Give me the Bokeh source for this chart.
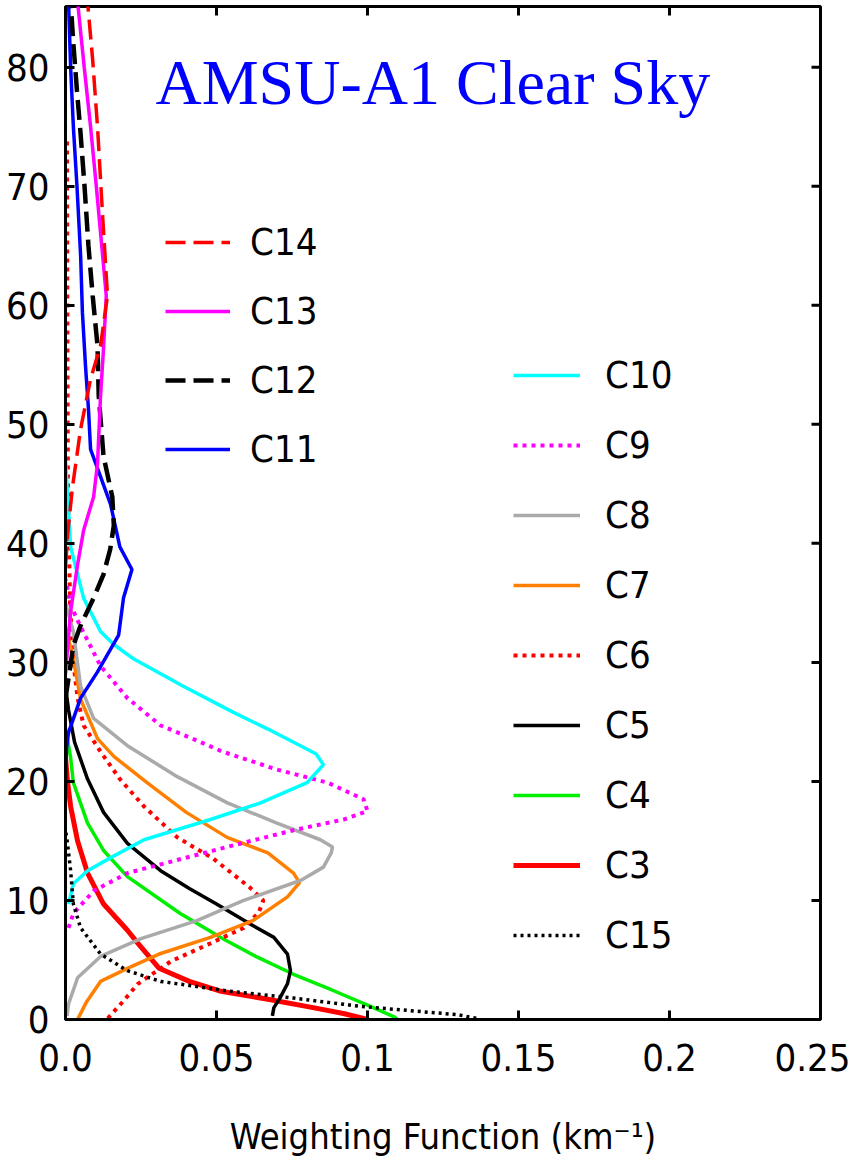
from bokeh.plotting import figure
from bokeh.models import Legend, LegendItem, Label, FixedTicker, Range1d
from bokeh.embed import file_html
from bokeh.resources import INLINE

# ---------------- data ----------------
x_ticks = [0.0, 0.05, 0.1, 0.15, 0.2, 0.25]
x_tick_labels = ["0.0", "0.05", "0.1", "0.15", "0.2", "0.25"]
y_ticks = [0, 10, 20, 30, 40, 50, 60, 70, 80]

alt_c3 = [0, 0.5, 1.0, 1.7, 2.4, 3.2, 4.3, 6.4, 7.5, 9.7, 12.3, 15.0, 17.9, 19.9, 22.0]
wf_c3 = [0.100, 0.092, 0.082, 0.067, 0.051, 0.041, 0.031, 0.024, 0.0205, 0.0126, 0.0073, 0.0040, 0.0017, 0.0007, 0.0]

alt_c4 = [0, 0.2, 1.1, 2.5, 3.8, 5.3, 6.8, 8.9, 12.0, 14.2, 16.5, 19.9, 22.0, 24.5]
wf_c4 = [0.110, 0.109, 0.101, 0.088, 0.0755, 0.063, 0.052, 0.038, 0.0205, 0.0126, 0.0073, 0.0026, 0.0017, 0.0]

alt_c5 = [0.3, 1.0, 1.8, 3.0, 4.1, 5.5, 6.9, 7.9, 9.7, 11.0, 12.5, 14.8, 17.4, 20.2, 23.3, 26.0, 28.0]
wf_c5 = [0.0685, 0.069, 0.071, 0.0735, 0.0745, 0.0735, 0.069, 0.062, 0.050, 0.041, 0.0315, 0.0205, 0.0126, 0.0073, 0.0030, 0.0010, 0.0]

alt_c6 = [0.1, 1.5, 3.0, 4.9, 6.4, 7.7, 9.0, 10.0, 11.1, 13.5, 15.3, 17.9, 20.2, 22.5, 24.7, 27.0, 30.0, 35.0, 45.0, 60.0, 74.0]
wf_c6 = [0.014, 0.019, 0.024, 0.035, 0.048, 0.059, 0.064, 0.0655, 0.061, 0.049, 0.037, 0.026, 0.018, 0.0116, 0.006, 0.004, 0.0026, 0.0015, 0.0008, 0.0006, 0.0005]

alt_c7 = [0, 1.5, 3.2, 4.3, 5.5, 6.9, 8.3, 10.3, 11.5, 12.3, 14.0, 15.3, 17.4, 19.9, 22.1, 23.6, 26.9, 30.3, 33.0]
wf_c7 = [0.004, 0.007, 0.0116, 0.0205, 0.031, 0.048, 0.062, 0.0735, 0.0775, 0.0755, 0.067, 0.0535, 0.040, 0.027, 0.016, 0.0106, 0.005, 0.0026, 0.0]

alt_c8 = [0.3, 1.3, 3.5, 5.3, 6.8, 8.3, 10.0, 11.7, 12.8, 14.0, 14.5, 15.1, 16.5, 18.2, 20.4, 23.0, 25.3, 28.0, 32.6, 35.0]
wf_c8 = [0.0005, 0.001, 0.004, 0.0116, 0.025, 0.0435, 0.059, 0.078, 0.0854, 0.088, 0.0884, 0.0844, 0.070, 0.0536, 0.037, 0.0205, 0.0093, 0.005, 0.0026, 0.0]

alt_c9 = [7.7, 8.9, 10.8, 12.3, 13.4, 14.5, 15.9, 16.8, 17.5, 18.5, 19.9, 21.0, 22.5, 23.6, 24.7, 27.0, 29.7, 33.0, 34.8, 37.0]
wf_c9 = [0.001, 0.0026, 0.0093, 0.0205, 0.037, 0.0536, 0.0755, 0.092, 0.100, 0.0987, 0.0868, 0.070, 0.052, 0.042, 0.0315, 0.0205, 0.0116, 0.005, 0.0017, 0.0]

alt_c10 = [9.7, 11.4, 12.5, 13.6, 15.1, 16.8, 18.2, 19.9, 21.4, 22.3, 23.0, 24.4, 25.8, 28.0, 30.3, 31.5, 32.6, 35.4, 39.7, 44.0, 47.0]
wf_c10 = [0.001, 0.0026, 0.0073, 0.015, 0.026, 0.048, 0.0646, 0.080, 0.0854, 0.083, 0.0778, 0.067, 0.0556, 0.039, 0.0225, 0.016, 0.0116, 0.006, 0.0017, 0.0007, 0.0]

alt_c11 = [19.0, 22.7, 24.1, 27.0, 29.2, 32.3, 35.4, 37.8, 39.7, 43.3, 45.6, 47.9, 51.3, 55.0, 59.4, 64.2, 70.0, 75.0, 80.0, 85.5]
wf_c11 = [0.0, 0.0003, 0.001, 0.005, 0.0106, 0.0176, 0.0192, 0.022, 0.018, 0.0149, 0.0116, 0.0083, 0.0076, 0.0066, 0.0056, 0.005, 0.0038, 0.0026, 0.0017, 0.001]

alt_c12 = [27.0, 29.0, 31.4, 33.1, 35.4, 37.4, 39.5, 41.5, 43.9, 47.3, 52.4, 56.6, 60.8, 65.0, 70.0, 74.4, 78.0, 82.0, 85.5]
wf_c12 = [0.0, 0.0012, 0.0026, 0.005, 0.0093, 0.0126, 0.0148, 0.016, 0.0155, 0.0126, 0.011, 0.0106, 0.009, 0.0076, 0.0063, 0.005, 0.0038, 0.0026, 0.0017]

alt_c13 = [29.0, 31.5, 34.3, 38.2, 41.1, 43.9, 46.7, 52.4, 56.0, 60.8, 65.0, 70.0, 75.0, 80.0, 85.5]
wf_c13 = [0.0, 0.0008, 0.0017, 0.004, 0.006, 0.0093, 0.0106, 0.0116, 0.0125, 0.0135, 0.012, 0.0102, 0.0083, 0.0062, 0.004]

alt_c14 = [38.0, 41.0, 44.7, 49.6, 53.8, 56.6, 60.8, 67.9, 75.0, 80.6, 85.5]
wf_c14 = [0.0, 0.0008, 0.0023, 0.005, 0.0083, 0.0116, 0.0139, 0.0122, 0.0106, 0.009, 0.0073]

alt_c15 = [0.1, 0.4, 1.1, 1.8, 2.4, 3.2, 4.1, 5.5, 7.7, 9.7, 12.5, 14.5, 16.0]
wf_c15 = [0.136, 0.130, 0.0977, 0.0755, 0.0536, 0.0315, 0.0205, 0.0116, 0.005, 0.0026, 0.0017, 0.0008, 0.0]

title_text = "AMSU-A1 Clear Sky"
x_label = "Weighting Function (km\u207b\u00b9)"

# ---------------- styles ----------------
NARROW = "'Liberation Sans Narrow', 'DejaVu Sans Condensed', 'Liberation Sans', sans-serif"
X_MIN, X_MAX = 0.0, 0.25
Y_MIN, Y_MAX = 0.0, 85.1
FRAME_W, FRAME_H = 755, 1013
TICK_PX = 9

series = {
    "C3":  (wf_c3,  alt_c3,  dict(color="#ff0000", width=5.0, dash="solid")),
    "C4":  (wf_c4,  alt_c4,  dict(color="#00ee00", width=3.5, dash="solid")),
    "C5":  (wf_c5,  alt_c5,  dict(color="#000000", width=3.5, dash="solid")),
    "C6":  (wf_c6,  alt_c6,  dict(color="#ff0000", width=4.0, dash="4 5")),
    "C7":  (wf_c7,  alt_c7,  dict(color="#ff8000", width=3.5, dash="solid")),
    "C8":  (wf_c8,  alt_c8,  dict(color="#aaaaaa", width=3.5, dash="solid")),
    "C9":  (wf_c9,  alt_c9,  dict(color="#ff00ff", width=4.0, dash="4 5")),
    "C10": (wf_c10, alt_c10, dict(color="#00ffff", width=3.5, dash="solid")),
    "C11": (wf_c11, alt_c11, dict(color="#0000ff", width=3.5, dash="solid")),
    "C12": (wf_c12, alt_c12, dict(color="#000000", width=4.5, dash="20 8")),
    "C13": (wf_c13, alt_c13, dict(color="#ff00ff", width=3.5, dash="solid")),
    "C14": (wf_c14, alt_c14, dict(color="#ff0000", width=3.5, dash="20 8")),
    "C15": (wf_c15, alt_c15, dict(color="#000000", width=3.5, dash="3 4")),
}

p = figure(
    output_backend="svg", toolbar_location=None,
    frame_width=FRAME_W, frame_height=FRAME_H,
    min_border_left=65, min_border_right=30, min_border_top=6, min_border_bottom=150,
    x_range=Range1d(X_MIN, X_MAX), y_range=Range1d(Y_MIN, Y_MAX),
)
p.background_fill_color = "white"
p.border_fill_color = "white"
p.outline_line_color = "black"
p.outline_line_width = 3
p.xgrid.visible = False
p.ygrid.visible = False

renderers = {}
for name, (xs, ys, st) in series.items():
    renderers[name] = p.line(xs, ys, line_color=st["color"], line_width=st["width"],
                             line_dash=st["dash"])

# axes
def style_axis(ax, ticks):
    ax.ticker = FixedTicker(ticks=ticks)
    ax.axis_line_color = "black"
    ax.axis_line_width = 3
    ax.major_tick_line_color = "black"
    ax.major_tick_line_width = 3
    ax.major_tick_in = TICK_PX
    ax.major_tick_out = 0
    ax.minor_tick_line_color = None
    ax.major_label_text_font = NARROW
    ax.major_label_text_font_size = "38px"
    ax.major_label_text_color = "black"

xa = p.xaxis[0]
style_axis(xa, x_ticks)
xa.major_label_overrides = {t: l for t, l in zip(x_ticks, x_tick_labels)}
xa.major_label_standoff = 24
xa.axis_label = x_label
xa.axis_label_text_font = NARROW
xa.axis_label_text_font_size = "36px"
xa.axis_label_text_font_style = "normal"
xa.axis_label_text_color = "black"
xa.axis_label_standoff = 42

ya = p.yaxis[0]
style_axis(ya, y_ticks)
ya.major_label_standoff = 16

# inward ticks on the top and right frame edges (mirroring the axis ticks)
dy_tick = TICK_PX * (Y_MAX - Y_MIN) / FRAME_H
dx_tick = TICK_PX * (X_MAX - X_MIN) / FRAME_W
p.segment(x0=x_ticks, y0=[Y_MAX] * len(x_ticks), x1=x_ticks, y1=[Y_MAX - dy_tick] * len(x_ticks),
          line_color="black", line_width=3)
p.segment(x0=[X_MAX] * len(y_ticks), y0=y_ticks, x1=[X_MAX - dx_tick] * len(y_ticks), y1=y_ticks,
          line_color="black", line_width=3)

# title inside plot
p.add_layout(Label(x=0.0298, y=78.7, text=title_text, text_font="Liberation Serif",
                   text_font_size="64px", text_color="#0000ff", text_baseline="alphabetic"))

# legends
def make_legend(names, loc, glyph_w, standoff, spacing):
    items = [LegendItem(label=n, renderers=[renderers[n]]) for n in names]
    return Legend(items=items, location=loc, orientation="vertical",
                  background_fill_alpha=0, border_line_color=None,
                  glyph_width=glyph_w, glyph_height=20, label_height=20,
                  label_standoff=standoff, spacing=spacing, padding=0, margin=0,
                  label_text_font=NARROW, label_text_font_size="38px",
                  label_text_color="black")

p.add_layout(make_legend(["C14", "C13", "C12", "C11"], (100, 548), 65, 20, 25))
p.add_layout(make_legend(["C10", "C9", "C8", "C7", "C6", "C5", "C4", "C3", "C15"], (448, 62), 67, 25, 26))

open("out.html", "w").write(file_html(p, INLINE))
